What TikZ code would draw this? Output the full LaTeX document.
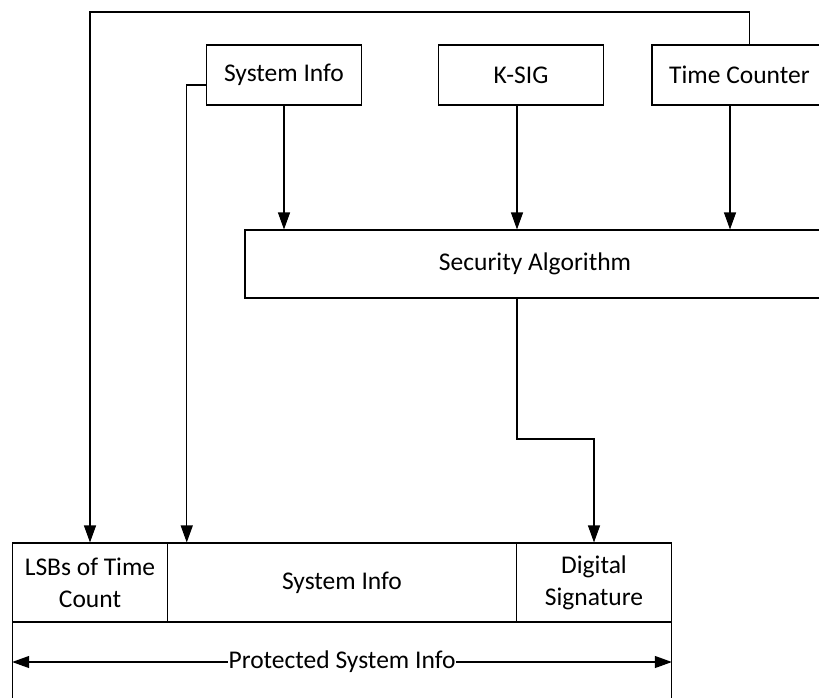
\documentclass[tikz,border=0pt]{standalone}
\usepackage{fontspec}
\setmainfont{Carlito}
\usetikzlibrary{positioning,arrows.meta,calc}

\begin{document}
\begin{tikzpicture}[
    x=1pt, y=-1pt,
    font=\fontsize{25.5}{32}\selectfont,
    box/.style={draw, line width=1.1pt, align=center, inner sep=0pt, minimum height=60pt},
    cell/.style={draw, line width=1.1pt, align=center, inner sep=0pt, minimum height=79pt},
    arr/.style={-{Triangle[length=17pt, width=12pt]}, line width=1.1pt},
    dblarr/.style={{Triangle[length=17pt, width=12pt]}-{Triangle[length=17pt, width=12pt]}, line width=1.1pt}
  ]
    \useasboundingbox (0,0) rectangle (819,697);
    \clip (0,0) rectangle (819,697);

    \node[box, minimum width=155pt] (sysinfo) at (284,75) {System Info};
    \node[box, minimum width=164.5pt] (ksig) at (521,75) {K-SIG};
    \node[box, minimum width=175pt] (timectr) at (739.5,75) {Time Counter};
    \node[box, minimum width=580pt, minimum height=68pt] (secalg) at (535,264) {Security Algorithm};

    \node[cell, minimum width=154.6pt] (lsbs) at (90,582.5) {LSBs of Time\\Count};
    \node[cell, minimum width=349.4pt] (sysfield) at (342,582.5) {System Info};
    \node[cell, minimum width=154.6pt] (digsig) at (594,582.5) {Digital\\Signature};
    \node[cell, minimum width=658.6pt, minimum height=80pt] (protected) at (342,662) {};

    \coordinate (topline) at (0,12);
    \coordinate (jog) at (517,439);
    \coordinate (tcout) at ([xshift=10pt]timectr.north);
    \coordinate (tcin) at ([xshift=-9.5pt]timectr.south);

    \draw[arr] (tcout) -- (tcout |- topline) -| (lsbs.north);
    \draw[arr] ([yshift=-10pt]sysinfo.west) -| ([xshift=20pt]sysfield.north west);
    \draw[arr] (sysinfo.south) -- (sysinfo.south |- secalg.north);
    \draw[arr] (jog |- ksig.south) -- (jog |- secalg.north);
    \draw[arr] (tcin) -- (tcin |- secalg.north);
    \draw[arr] (jog |- secalg.south) -- (jog) -| (digsig.north);
    \draw[dblarr] (protected.west) -- node[fill=white, inner sep=1pt] (prlabel) {Protected System Info} (protected.east);
  \end{tikzpicture}
\end{document}
